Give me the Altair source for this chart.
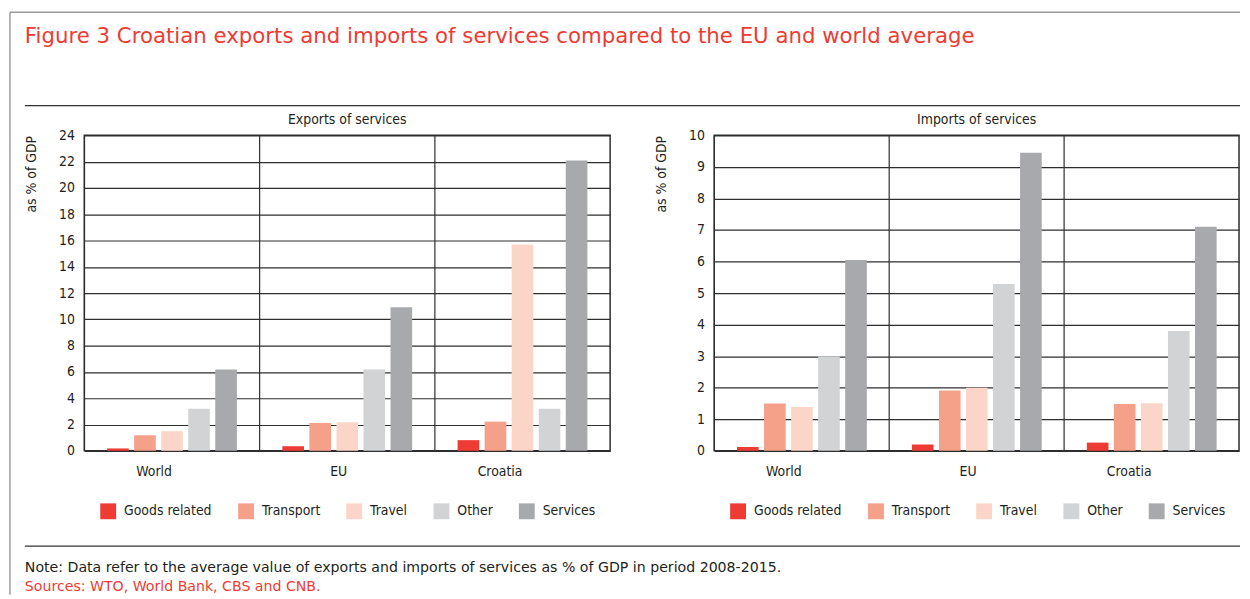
import altair as alt
import pandas as pd

# ---------------- data ----------------
regions = ["World", "EU", "Croatia"]
categories = ["Goods related", "Transport", "Travel", "Other", "Services"]
colors = ["#EE3B33", "#F5A088", "#FBD6C8", "#D1D3D4", "#A7A9AC"]

exports_world = [0.18, 1.18, 1.49, 3.2, 6.18]
exports_eu = [0.35, 2.12, 2.17, 6.18, 10.92]
exports_croatia = [0.81, 2.22, 15.7, 3.2, 22.08]

imports_world = [0.12, 1.5, 1.39, 2.99, 6.05]
imports_eu = [0.2, 1.91, 2.0, 5.29, 9.45]
imports_croatia = [0.26, 1.48, 1.51, 3.8, 7.1]

export_ticks = [0, 2, 4, 6, 8, 10, 12, 14, 16, 18, 20, 22, 24]
import_ticks = [0, 1, 2, 3, 4, 5, 6, 7, 8, 9, 10]

title_text = "Figure 3 Croatian exports and imports of services compared to the EU and world average"
panel_titles = ["Exports of services", "Imports of services"]
y_title = "as % of GDP"
note_line = "Note: Data refer to the average value of exports and imports of services as % of GDP in period 2008-2015."
source_line = "Sources: WTO, World Bank, CBS and CNB."

# ---------------- style ----------------
NARROW = "Liberation Sans Narrow, Arial Narrow, DejaVu Sans Condensed, sans-serif"
WIDE = "DejaVu Sans, Liberation Sans, Arial, sans-serif"
TXT = "#231F20"
RED = "#EE3B33"
GRID = "#2e2e2e"
FRAME = "#6e6e6e"


def make_df(world, eu, croatia):
    rows = []
    for reg, vals in zip(regions, [world, eu, croatia]):
        for cat, v in zip(categories, vals):
            rows.append({"region": reg, "category": cat, "value": v})
    return pd.DataFrame(rows)


exports_df = make_df(exports_world, exports_eu, exports_croatia)
imports_df = make_df(imports_world, imports_eu, imports_croatia)
one = pd.DataFrame({"k": [0]})

PH = 318


def panel(df, ptitle, ticks, ymax, pw):
    x_enc = alt.X(
        "region:N", sort=regions,
        scale=alt.Scale(paddingInner=0, paddingOuter=0),
        axis=alt.Axis(title=None, labelAngle=0, ticks=False, domain=False, grid=False,
                      labelFontSize=14, labelFont=NARROW, labelColor=TXT, labelPadding=21),
    )
    bars = alt.Chart(df).mark_bar().encode(
        x=x_enc,
        xOffset=alt.XOffset("category:N", sort=categories,
                            scale=alt.Scale(paddingInner=0.2, paddingOuter=0.84)),
        y=alt.Y("value:Q",
                scale=alt.Scale(domain=[0, ymax], nice=False, zero=True),
                axis=alt.Axis(values=ticks, title=y_title, titleAnchor="end", grid=True,
                              gridColor=GRID, gridWidth=1.2, ticks=False, domain=False,
                              labelFontSize=14, labelFont=NARROW, labelColor=TXT, labelPadding=10,
                              titleFontSize=14, titleFont=NARROW, titleColor=TXT,
                              titleFontWeight="normal", titlePadding=20)),
        color=alt.Color("category:N", sort=categories,
                        scale=alt.Scale(domain=categories, range=colors),
                        legend=alt.Legend(title=None, orient="none", legendX=16, legendY=371,
                                          direction="horizontal",
                                          symbolType="square", symbolSize=256, symbolStrokeWidth=0,
                                          labelFontSize=14, labelFont=NARROW, labelColor=TXT,
                                          labelOffset=8, columnPadding=26, padding=0,
                                          labelLimit=300)),
    )
    seps = alt.Chart(pd.DataFrame({"region": regions})).mark_rule(
        color=GRID, strokeWidth=1.2).encode(x=alt.X("region:N", sort=regions, bandPosition=0))
    ttl = alt.Chart(pd.DataFrame({"t": [ptitle]})).mark_text(
        align="center", baseline="middle", font=NARROW, fontSize=14, color=TXT).encode(
        text="t:N", x=alt.value(pw / 2), y=alt.value(-15))
    return [seps, bars, ttl]


def deco():
    # frame, figure title, separator lines and notes (positions relative to left panel)
    return [
        alt.Chart(one).mark_rule(color="#999999", strokeWidth=1.5).encode(
            x=alt.value(-75), x2=alt.value(1165), y=alt.value(-124)),
        alt.Chart(one).mark_rule(color=FRAME, strokeWidth=1).encode(
            x=alt.value(-75), y=alt.value(-124), y2=alt.value(463)),
        alt.Chart(one).mark_rule(color="#333333", strokeWidth=1.2).encode(
            x=alt.value(-60), x2=alt.value(1165), y=alt.value(414)),
        alt.Chart(one).mark_rule(color="#333333", strokeWidth=1.2).encode(
            x=alt.value(-60), x2=alt.value(1165), y=alt.value(-30)),
        alt.Chart(pd.DataFrame({"t": [title_text]})).mark_text(
            align="left", baseline="alphabetic", font=WIDE, fontSize=21.45, color=RED).encode(
            text="t:N", x=alt.value(-60), y=alt.value(-93)),
        alt.Chart(pd.DataFrame({"t": [note_line]})).mark_text(
            align="left", baseline="alphabetic", font=WIDE, fontSize=14.25, color=TXT).encode(
            text="t:N", x=alt.value(-60), y=alt.value(440)),
        alt.Chart(pd.DataFrame({"t": [source_line]})).mark_text(
            align="left", baseline="alphabetic", font=WIDE, fontSize=14.25, color=RED).encode(
            text="t:N", x=alt.value(-60), y=alt.value(459)),
    ]


exp_chart = alt.layer(*panel(exports_df, panel_titles[0], export_ticks, 24, 530), *deco()).properties(
    width=530, height=PH)
imp_chart = alt.layer(*panel(imports_df, panel_titles[1], import_ticks, 10, 529)).properties(
    width=529, height=PH)

chart = alt.hconcat(exp_chart, imp_chart, spacing=105, bounds="flush").resolve_scale(
    color="independent").properties(
    padding={"left": 0, "top": 0, "right": 0, "bottom": 0},
    background="white",
).configure_view(stroke=GRID, strokeWidth=1.5)

chart.save("out.html", embed_options={"renderer": "svg", "actions": False})
